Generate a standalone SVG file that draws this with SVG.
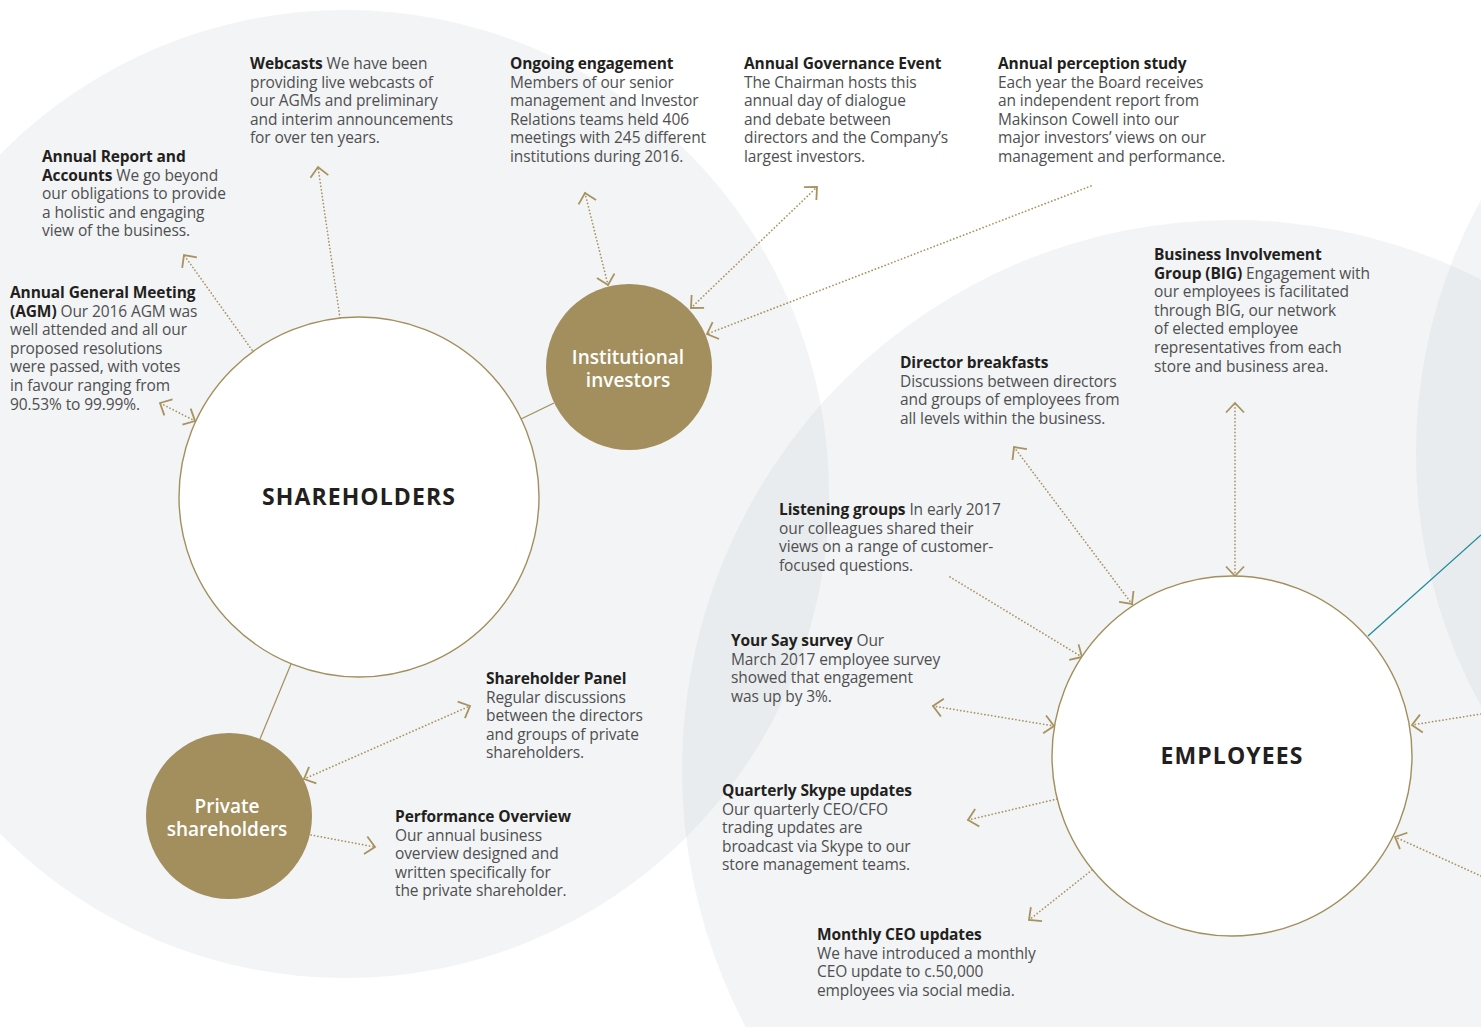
<svg xmlns="http://www.w3.org/2000/svg" width="1481" height="1027" viewBox="0 0 1481 1027">
<defs>
<style>
.bg{fill:#d9dde0;fill-opacity:0.33}
.t{font-family:"Open Sans","Liberation Sans",sans-serif;font-size:15.5px;fill:#4f4f51;letter-spacing:-0.1px}
.b{font-weight:700;fill:#231f20}
.dot{fill:none;stroke:#a8925f;stroke-width:1.7;stroke-dasharray:0.1 3.4;stroke-linecap:round}
.solid{fill:none;stroke:#a38f5e;stroke-width:1.2}
.teal{fill:none;stroke:#1f8c98;stroke-width:1.3}
.ring{fill:#fff;stroke:#a38f5e;stroke-width:1.4}
.gold{fill:#a38f5e}
.big{font-family:"Open Sans","Liberation Sans",sans-serif;font-size:23px;font-weight:700;fill:#231f20;letter-spacing:1.1px;text-anchor:middle}
.wl{font-family:"Open Sans","Liberation Sans",sans-serif;font-size:19px;font-weight:600;fill:#fff;text-anchor:middle}
</style>
<marker id="ah" viewBox="-12 -12 24 24" refX="0" refY="0" markerWidth="24" markerHeight="24" markerUnits="userSpaceOnUse" orient="auto-start-reverse">
<path d="M-9.5,-9 L0,0 L-9.5,9" fill="none" stroke="#a8925f" stroke-width="1.8" stroke-dasharray="none"/>
</marker>
</defs>
<rect width="1481" height="1027" fill="#fff"/>
<g id="background">
<circle class="bg" cx="345" cy="494" r="484"/>
<circle class="bg" cx="1232" cy="770" r="550"/>
<circle class="bg" cx="1941" cy="453" r="525"/>
</g>
<g id="connectors">
<line class="solid" x1="521" y1="419" x2="554" y2="403"/>
<line class="solid" x1="291" y1="664" x2="260" y2="739"/>
<line class="teal" x1="1368" y1="636" x2="1481" y2="535"/>
<path class="dot" d="M195,421 L160,403" marker-start="url(#ah)" marker-end="url(#ah)"/>
<path class="dot" d="M252,350 L184,255" marker-end="url(#ah)"/>
<path class="dot" d="M340,318 L318,167" marker-end="url(#ah)"/>
<path class="dot" d="M608,285 L585,193" marker-start="url(#ah)" marker-end="url(#ah)"/>
<path class="dot" d="M691,308 L817,187" marker-start="url(#ah)" marker-end="url(#ah)"/>
<path class="dot" d="M1091,186 L707,334" marker-end="url(#ah)"/>
<path class="dot" d="M304,779 L470,706" marker-start="url(#ah)" marker-end="url(#ah)"/>
<path class="dot" d="M311,835 L375,847" marker-end="url(#ah)"/>
<path class="dot" d="M1132,604 L1014,447" marker-start="url(#ah)" marker-end="url(#ah)"/>
<path class="dot" d="M1235,576 L1235,403" marker-start="url(#ah)" marker-end="url(#ah)"/>
<path class="dot" d="M950,577 L1082,657" marker-end="url(#ah)"/>
<path class="dot" d="M1054,726 L933,706" marker-start="url(#ah)" marker-end="url(#ah)"/>
<path class="dot" d="M1057,799 L968,820" marker-end="url(#ah)"/>
<path class="dot" d="M1092,870 L1029,920" marker-end="url(#ah)"/>
<path class="dot" d="M1481,714 L1412,725" marker-end="url(#ah)"/>
<path class="dot" d="M1481,876 L1395,837" marker-end="url(#ah)"/>
</g>
<g id="shareholders">
<circle class="ring" cx="359" cy="497" r="180"/>
<text class="big" x="359" y="505">SHAREHOLDERS</text>
</g>
<g id="institutional-investors">
<circle class="gold" cx="629" cy="367" r="83"/>
<text class="wl" x="628" y="364">Institutional</text>
<text class="wl" x="628" y="387">investors</text>
</g>
<g id="private-shareholders">
<circle class="gold" cx="229" cy="816" r="83"/>
<text class="wl" x="227" y="813">Private</text>
<text class="wl" x="227" y="836">shareholders</text>
</g>
<g id="employees">
<circle class="ring" cx="1232" cy="756" r="180"/>
<text class="big" x="1232" y="764">EMPLOYEES</text>
</g>
<g id="webcasts">
<text class="t" y="69"><tspan x="250"><tspan class="b">Webcasts</tspan> We have been</tspan><tspan x="250" dy="18.6">providing live webcasts of</tspan><tspan x="250" dy="18.6">our AGMs and preliminary</tspan><tspan x="250" dy="18.6">and interim announcements</tspan><tspan x="250" dy="18.6">for over ten years.</tspan></text>
</g>
<g id="ongoing-engagement">
<text class="t" y="69"><tspan x="510" class="b">Ongoing engagement</tspan><tspan x="510" dy="18.6">Members of our senior</tspan><tspan x="510" dy="18.6">management and Investor</tspan><tspan x="510" dy="18.6">Relations teams held 406</tspan><tspan x="510" dy="18.6">meetings with 245 different</tspan><tspan x="510" dy="18.6">institutions during 2016.</tspan></text>
</g>
<g id="annual-governance-event">
<text class="t" y="69"><tspan x="744" class="b">Annual Governance Event</tspan><tspan x="744" dy="18.6">The Chairman hosts this</tspan><tspan x="744" dy="18.6">annual day of dialogue</tspan><tspan x="744" dy="18.6">and debate between</tspan><tspan x="744" dy="18.6">directors and the Company’s</tspan><tspan x="744" dy="18.6">largest investors.</tspan></text>
</g>
<g id="annual-perception-study">
<text class="t" y="69"><tspan x="998" class="b">Annual perception study</tspan><tspan x="998" dy="18.6">Each year the Board receives</tspan><tspan x="998" dy="18.6">an independent report from</tspan><tspan x="998" dy="18.6">Makinson Cowell into our</tspan><tspan x="998" dy="18.6">major investors’ views on our</tspan><tspan x="998" dy="18.6">management and performance.</tspan></text>
</g>
<g id="annual-report">
<text class="t" y="162"><tspan x="42" class="b">Annual Report and</tspan><tspan x="42" dy="18.6"><tspan class="b">Accounts</tspan> We go beyond</tspan><tspan x="42" dy="18.6">our obligations to provide</tspan><tspan x="42" dy="18.6">a holistic and engaging</tspan><tspan x="42" dy="18.6">view of the business.</tspan></text>
</g>
<g id="agm">
<text class="t" y="298"><tspan x="10" class="b">Annual General Meeting</tspan><tspan x="10" dy="18.6"><tspan class="b">(AGM)</tspan> Our 2016 AGM was</tspan><tspan x="10" dy="18.6">well attended and all our</tspan><tspan x="10" dy="18.6">proposed resolutions</tspan><tspan x="10" dy="18.6">were passed, with votes</tspan><tspan x="10" dy="18.6">in favour ranging from</tspan><tspan x="10" dy="18.6">90.53% to 99.99%.</tspan></text>
</g>
<g id="big">
<text class="t" y="260"><tspan x="1154" class="b">Business Involvement</tspan><tspan x="1154" dy="18.6"><tspan class="b">Group (BIG)</tspan> Engagement with</tspan><tspan x="1154" dy="18.6">our employees is facilitated</tspan><tspan x="1154" dy="18.6">through BIG, our network</tspan><tspan x="1154" dy="18.6">of elected employee</tspan><tspan x="1154" dy="18.6">representatives from each</tspan><tspan x="1154" dy="18.6">store and business area.</tspan></text>
</g>
<g id="director-breakfasts">
<text class="t" y="368"><tspan x="900" class="b">Director breakfasts</tspan><tspan x="900" dy="18.6">Discussions between directors</tspan><tspan x="900" dy="18.6">and groups of employees from</tspan><tspan x="900" dy="18.6">all levels within the business.</tspan></text>
</g>
<g id="listening-groups">
<text class="t" y="515"><tspan x="779"><tspan class="b">Listening groups</tspan> In early 2017</tspan><tspan x="779" dy="18.6">our colleagues shared their</tspan><tspan x="779" dy="18.6">views on a range of customer-</tspan><tspan x="779" dy="18.6">focused questions.</tspan></text>
</g>
<g id="your-say-survey">
<text class="t" y="646"><tspan x="731"><tspan class="b">Your Say survey</tspan> Our</tspan><tspan x="731" dy="18.6">March 2017 employee survey</tspan><tspan x="731" dy="18.6">showed that engagement</tspan><tspan x="731" dy="18.6">was up by 3%.</tspan></text>
</g>
<g id="quarterly-skype-updates">
<text class="t" y="796"><tspan x="722" class="b">Quarterly Skype updates</tspan><tspan x="722" dy="18.6">Our quarterly CEO/CFO</tspan><tspan x="722" dy="18.6">trading updates are</tspan><tspan x="722" dy="18.6">broadcast via Skype to our</tspan><tspan x="722" dy="18.6">store management teams.</tspan></text>
</g>
<g id="monthly-ceo-updates">
<text class="t" y="940"><tspan x="817" class="b">Monthly CEO updates</tspan><tspan x="817" dy="18.6">We have introduced a monthly</tspan><tspan x="817" dy="18.6">CEO update to c.50,000</tspan><tspan x="817" dy="18.6">employees via social media.</tspan></text>
</g>
<g id="shareholder-panel">
<text class="t" y="684"><tspan x="486" class="b">Shareholder Panel</tspan><tspan x="486" dy="18.6">Regular discussions</tspan><tspan x="486" dy="18.6">between the directors</tspan><tspan x="486" dy="18.6">and groups of private</tspan><tspan x="486" dy="18.6">shareholders.</tspan></text>
</g>
<g id="performance-overview">
<text class="t" y="822"><tspan x="395" class="b">Performance Overview</tspan><tspan x="395" dy="18.6">Our annual business</tspan><tspan x="395" dy="18.6">overview designed and</tspan><tspan x="395" dy="18.6">written specifically for</tspan><tspan x="395" dy="18.6">the private shareholder.</tspan></text>
</g>
</svg>
